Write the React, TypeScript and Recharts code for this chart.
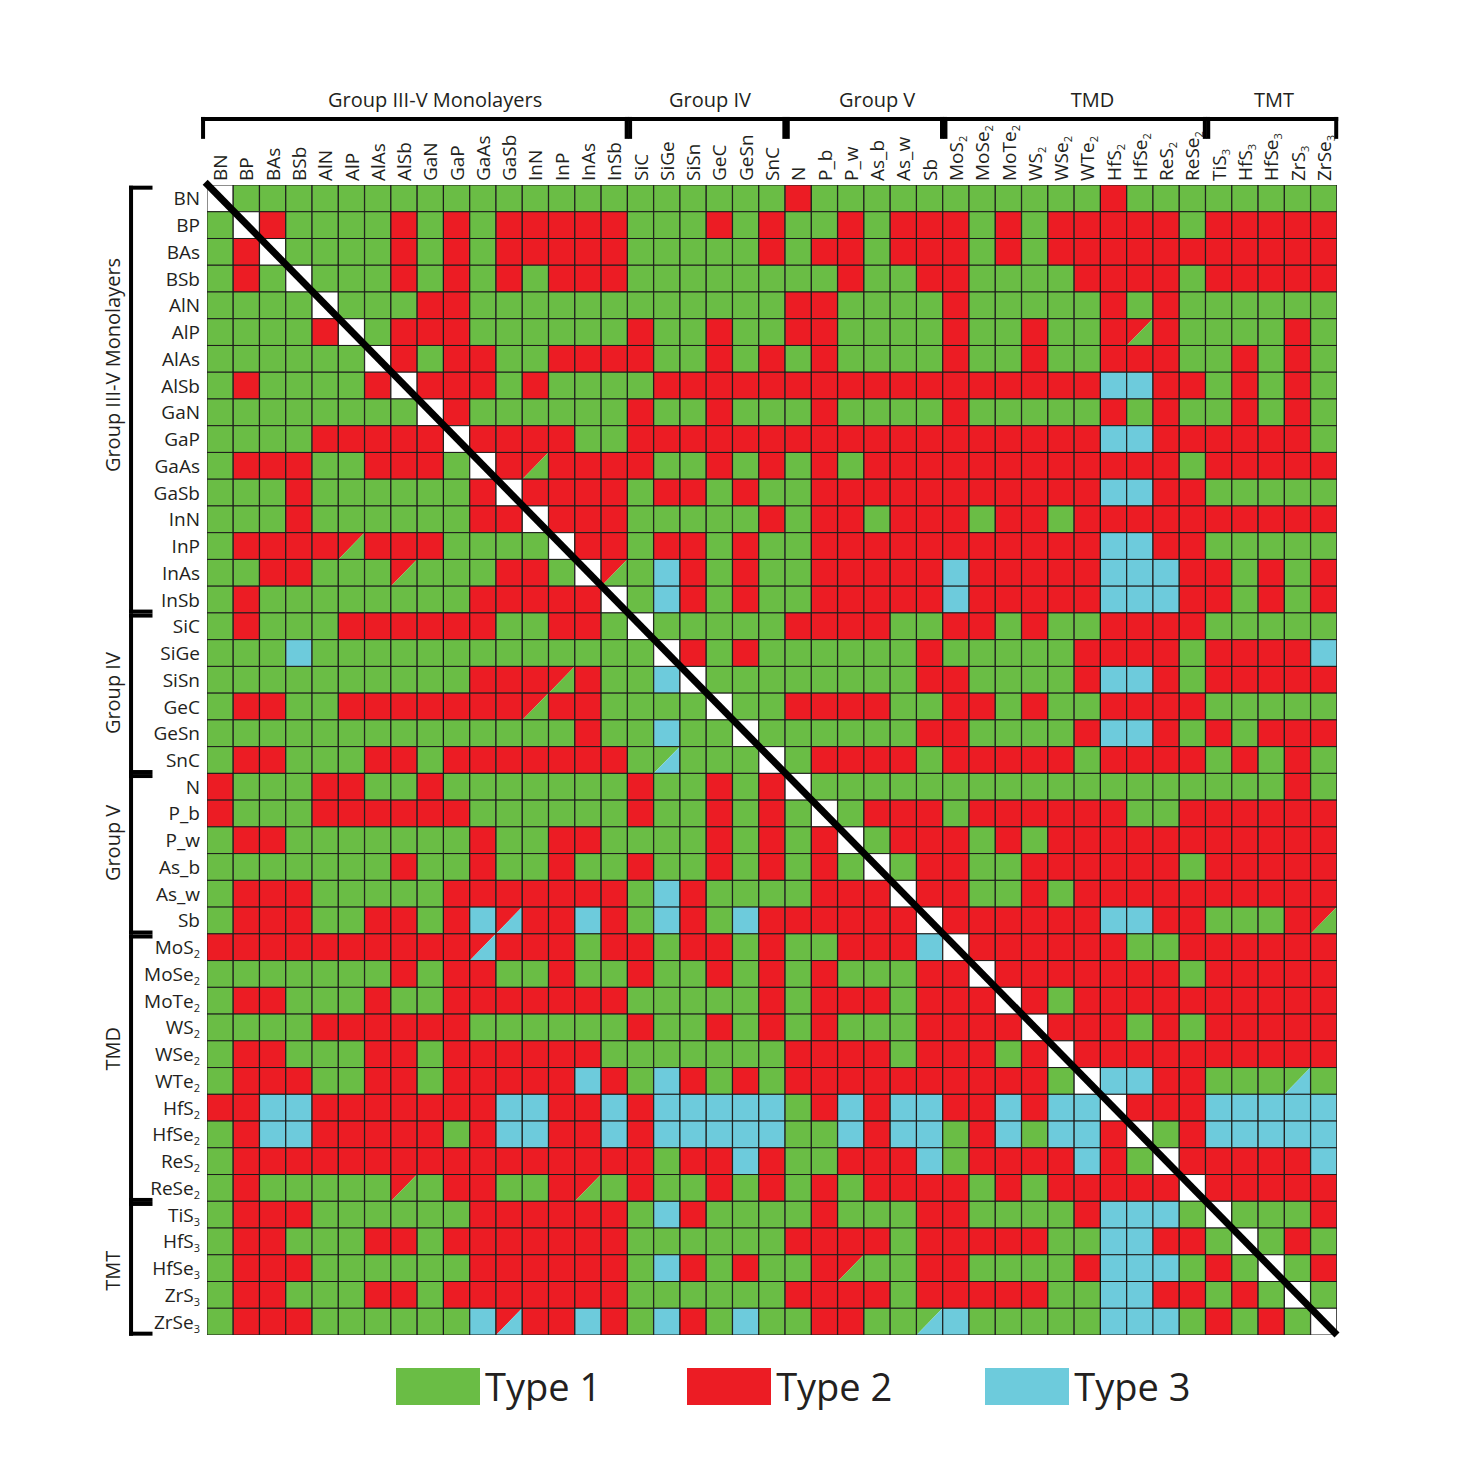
import { Bar, ComposedChart, ReferenceDot, ReferenceLine, XAxis, YAxis } from 'recharts';

const FONT = "'Open Sans', sans-serif";

const MATERIALS = [
  'BN', 'BP', 'BAs', 'BSb', 'AlN', 'AlP', 'AlAs', 'AlSb', 'GaN', 'GaP', 'GaAs', 'GaSb', 'InN', 'InP', 'InAs', 'InSb',
  'SiC', 'SiGe', 'SiSn', 'GeC', 'GeSn', 'SnC',
  'N', 'P_b', 'P_w', 'As_b', 'As_w', 'Sb',
  'MoS2', 'MoSe2', 'MoTe2', 'WS2', 'WSe2', 'WTe2', 'HfS2', 'HfSe2', 'ReS2', 'ReSe2',
  'TiS3', 'HfS3', 'HfSe3', 'ZrS3', 'ZrSe3',
];

const GROUPS = [
  { name: 'Group III-V Monolayers', start: 0, end: 16 },
  { name: 'Group IV', start: 16, end: 22 },
  { name: 'Group V', start: 22, end: 28 },
  { name: 'TMD', start: 28, end: 38 },
  { name: 'TMT', start: 38, end: 43 },
];

// G = Type 1, R = Type 2, B = Type 3, W = diagonal (same material)
// a = R/G split, b = R/B split, c = G/B split (upper-left / lower-right)
const CELL_ROWS = [
  'WGGGGGGGGGGGGGG' + 'GGGGGGGRGGGGGG' + 'GGGGGRGGGGGGGG',
  'GWRGGGGRGRGRRRR' + 'RGGGRGRGGRGRRR' + 'GRGRRRRRGRRRRR',
  'GRWGGGGRGRGRRRR' + 'RGGGGGRGRRGRRR' + 'GRGRRRRRRRRRRR',
  'GRGWGGGRGRGRGRR' + 'RGGGGGGGGRGGRR' + 'GGGGRRRRGRRRRR',
  'GGGGWGGGRRGGGGG' + 'GGGGGGGRRGGGGR' + 'GGGGGRGRGGGGGG',
  'GGGGRWGRRRGGGGG' + 'GRGGRGGRRGGGGR' + 'GGRGGRaRGGGGRG',
  'GGGGGGWRGRRGGRR' + 'RRGGRGRGRGGGGR' + 'GGRGGRRRGGRGRG',
  'GRGGGGRWRRRGRGG' + 'GGRRRRRRRRRRRR' + 'RRRRRBBRRGRGRG',
  'GGGGGGGGWRGGGGG' + 'GRGGRGGGRGGGGR' + 'GGGGGRGRGGRGRG',
  'GGGGRRRRRWRRRRG' + 'GRRRRRRRRRRRRR' + 'RRRRRBBRRRRRRG',
  'GRRRGGRRRGWRaRR' + 'RRGGRGRGRGRRRR' + 'RRRRRRRRGRRRRR',
  'GGGRGGGGGGRWRRR' + 'RGRRGRGGRRRRRR' + 'RRRRRBBRRGGGGG',
  'GGGRGGGGGGRRWRR' + 'RGGGGGRGRRGRRR' + 'GRRGRRRRRRRRRR',
  'GRRRRaRRRGGGGWR' + 'RGRRGRGGRRRRRR' + 'RRRRRBBRRGGGGG',
  'GGRRGGGaGGGRRGW' + 'aGBRGRGGRRRRRB' + 'RRRRRBBBRRGRGR',
  'GRGGGGGGGGRRRRR' + 'WGBRGRGGRRRRRB' + 'RRRRRBBBRRGRGR',
  'GRGGGRRRRRRGGRR' + 'GWGGGGGRRRRGGR' + 'RGRGGRRRRGGGGG',
  'GGGBGGGGGGGGGGG' + 'GGWRGRGGGGGGRG' + 'GGGGRRRRGRRRRB',
  'GGGGGGGGGGRRRaR' + 'GGBWGGGGGGGGRR' + 'GGGGRBBRGRRRRR',
  'GRRGGRRRRRRRaRR' + 'GGGGWGGRRRRGGR' + 'RGRGGRRRRGGGGG',
  'GGGGGGGGGGGGGGR' + 'GGBGGWGGGGGGRR' + 'GGGGRBBRGRGRRR',
  'GRRGGGRRGRRRRRR' + 'RGcGGGWGRRRRGR' + 'RRRRGRRRRGRGRG',
  'RGGGRRGGRGGGGGG' + 'GRGGRGRWGGGGGG' + 'GGGGGGGGGGGGRG',
  'RGGGRRRRRRGGGGG' + 'GRGGRGRGWGRRRG' + 'RRRRRRGGRRRRRR',
  'GRRGGGGGGGRGGRR' + 'GGGGRGRGRWGRRR' + 'GRGRRRRRRRRRRR',
  'GGGGGGGRGGRGGRG' + 'GRGGRGRGRGWGRR' + 'GGRRRRRRGRRRRR',
  'GRRRGGGGGRRRRRR' + 'RGBRGGGGRRRWRR' + 'GGRGRRRRRRRRRR',
  'GRRRGGRRGRBbRRB' + 'RGBRGBRRRRRRWR' + 'RRRRRBBRRGGGRa',
  'RRRRRRRRRRbRRRG' + 'RRGRRGRGGRRRBW' + 'RRRRRRGGRRRRRR',
  'GGGGGGGRGRRGGRG' + 'GRGGRGRGRGGGRR' + 'WRRRRRRRGRRRRR',
  'GRRGGGRGGRRRRRR' + 'RGGGGGRGRRRGRR' + 'RWRGRRRRRRRRRR',
  'GGGGRRRRRRGGGGG' + 'GRGGRGRGRGGGRR' + 'RRWRRRGRGRRRRR',
  'GRRGGGRRGRRRRRR' + 'GGGGGGGRRRRGRR' + 'RGRWRRRRRRRRRR',
  'GRRRGGRRGRRRRRB' + 'RGBRGRGRRRRRRR' + 'RRRGWBBRRGGGcG',
  'RRBBRRRRRRRBBRR' + 'BRBBBBBGRBRBBR' + 'RBRBBWRRRBBBBB',
  'GRBBRRRRRGRBBRR' + 'BRBBBBBGGBRBBG' + 'RBGBBRWGRBBBBB',
  'GRRRRRRRRRRRRRR' + 'RRGRRBRGGRRRBG' + 'RRRRBRGWRRRRRB',
  'GRGGGGGaGRRGGRa' + 'GRGGRGRGRGRRRR' + 'GRGRRRRRWRRRRR',
  'GRRRGGGGGGRRRRR' + 'RGBRGGGGRGGGRR' + 'GGGGRBBBGWGGGR',
  'GRRGGGRRGRRRRRR' + 'RGGGGGGRRRRGRR' + 'RRRGGBBRRGWGRG',
  'GRRRGGGGGGRRRRR' + 'RGBRGRGGRaGGRR' + 'GGGGRBBBGRGWGR',
  'GRRGGGRRGRRRRRR' + 'RGGGGGGRRRRGRR' + 'RRRGGBBRRGRGWG',
  'GRRRGGGGGGBbRRB' + 'RGBRGBGGRRGGcB' + 'GGGGGBBBGRGRGW',
];

const LEGEND_ITEMS = [
  { code: 'G', label: 'Type 1' },
  { code: 'R', label: 'Type 2' },
  { code: 'B', label: 'Type 3' },
];

const COLORS: Record<string, string> = {
  G: '#6abd45',
  R: '#ec1c24',
  B: '#6dcbdc',
  W: '#ffffff',
};

const SPLITS: Record<string, [string, string]> = {
  a: ['R', 'G'],
  b: ['R', 'B'],
  c: ['G', 'B'],
};

// label nudges, in cell units
const TOP_LABEL_SHIFT = [0.68, 0.14, 0.5, 0.7, 0.1];
const SIDE_LABEL_SHIFT = [-1.27, 0, -0.4, -0.7, 0.1];

const N = MATERIALS.length;
const CENTERS = MATERIALS.map((_, i) => i + 0.5);

const chartData = MATERIALS.map((name, c) => {
  const entry: Record<string, string | number> = { name, pos: c + 0.5 };
  MATERIALS.forEach((_, r) => {
    entry[`r${r}`] = 1;
  });
  return entry;
});

function splitLabel(label: string) {
  const m = label.match(/^(.*?)(\d)$/);
  return m ? { main: m[1], sub: m[2] } : { main: label, sub: '' };
}

function MatrixCell(props: any) {
  const { x, y, width, height, index, row } = props;
  const code = CELL_ROWS[row][index];
  const top = Math.min(y, y + height);
  const h = Math.abs(height);
  const w = width;
  const stroke = '#1d1d1b';
  if (SPLITS[code]) {
    const [ul, lr] = SPLITS[code];
    return (
      <g>
        <polygon points={`${x},${top} ${x + w},${top} ${x},${top + h}`} fill={COLORS[ul]} />
        <polygon points={`${x + w},${top} ${x + w},${top + h} ${x},${top + h}`} fill={COLORS[lr]} />
        <rect x={x} y={top} width={w} height={h} fill="none" stroke={stroke} strokeWidth={1} />
      </g>
    );
  }
  return <rect x={x} y={top} width={w} height={h} fill={COLORS[code]} stroke={stroke} strokeWidth={1} />;
}

function ColumnTick({ x, y, payload }: any) {
  const { main, sub } = splitLabel(MATERIALS[Math.floor(payload.value)] ?? '');
  return (
    <text
      x={x}
      y={y}
      transform={`rotate(-90, ${x}, ${y})`}
      textAnchor="start"
      dominantBaseline="central"
      fontSize={19}
      fontFamily={FONT}
      fill="#231f20"
    >
      {main}
      {sub && (
        <tspan fontSize={11} dy={6}>
          {sub}
        </tspan>
      )}
    </text>
  );
}

function RowTick({ x, y, payload }: any) {
  const { main, sub } = splitLabel(MATERIALS[Math.floor(payload.value)] ?? '');
  return (
    <text x={x} y={y} textAnchor="end" dominantBaseline="central" fontSize={19} fontFamily={FONT} fill="#231f20">
      {main}
      {sub && (
        <tspan fontSize={11} dy={6}>
          {sub}
        </tspan>
      )}
    </text>
  );
}

export default function App() {
  const bracket = { stroke: '#000', strokeWidth: 4, strokeLinecap: 'square' as const };
  return (
    <div
      style={{
        position: 'absolute',
        left: 0,
        top: 0,
        width: 1477,
        height: 1477,
        background: '#fff',
        fontFamily: FONT,
      }}
    >
      <ComposedChart
        width={1477}
        height={1477}
        data={chartData}
        margin={{ top: 100, right: 140, bottom: 142, left: 107 }}
        barCategoryGap={0}
        barGap={0}
      >
        <XAxis
          dataKey="pos"
          type="number"
          domain={[0, N]}
          ticks={CENTERS}
          allowDataOverflow
          orientation="top"
          height={85}
          interval={0}
          tickLine={false}
          axisLine={false}
          tickSize={0}
          tickMargin={4}
          tick={<ColumnTick />}
        />
        <YAxis
          type="number"
          domain={[0, N]}
          reversed
          width={100}
          interval={0}
          ticks={CENTERS}
          tickLine={false}
          axisLine={false}
          tickSize={0}
          tickMargin={7}
          tick={<RowTick />}
          allowDataOverflow
        />
        {MATERIALS.map((_, r) => (
          <Bar
            key={r}
            dataKey={`r${r}`}
            stackId="cells"
            isAnimationActive={false}
            shape={(p: any) => <MatrixCell {...p} row={r} />}
          />
        ))}
        <ReferenceLine
          segment={[
            { x: -0.07, y: -0.1 },
            { x: N, y: N },
          ]}
          stroke="#000"
          strokeWidth={7}
          ifOverflow="visible"
        />
        {GROUPS.map((g, i) => {
          const x1 = g.start === 0 ? -0.15 : g.start + 0.1;
          const x2 = g.end - 0.03;
          const yH = -2.47;
          const yT = -1.8;
          const y1 = g.start + 0.1;
          const y2 = g.end - 0.05;
          const xV = -2.89;
          const xT = -2.15;
          return [
            <ReferenceLine key={`th${i}`} segment={[{ x: x1, y: yH }, { x: x2, y: yH }]} {...bracket} ifOverflow="visible" />,
            <ReferenceLine key={`tl${i}`} segment={[{ x: x1, y: yH }, { x: x1, y: yT }]} {...bracket} ifOverflow="visible" />,
            <ReferenceLine key={`tr${i}`} segment={[{ x: x2, y: yH }, { x: x2, y: yT }]} {...bracket} ifOverflow="visible" />,
            <ReferenceLine key={`sv${i}`} segment={[{ x: xV, y: y1 }, { x: xV, y: y2 }]} {...bracket} ifOverflow="visible" />,
            <ReferenceLine key={`st${i}`} segment={[{ x: xV, y: y1 }, { x: xT, y: y1 }]} {...bracket} ifOverflow="visible" />,
            <ReferenceLine key={`sb${i}`} segment={[{ x: xV, y: y2 }, { x: xT, y: y2 }]} {...bracket} ifOverflow="visible" />,
            <ReferenceDot
              key={`tt${i}`}
              x={(g.start + g.end) / 2 + TOP_LABEL_SHIFT[i]}
              y={-3.18}
              r={0}
              ifOverflow="visible"
              shape={(p: any) => (
                <text x={p.cx} y={p.cy} textAnchor="middle" dominantBaseline="central" fontSize={20} fontFamily={FONT} fill="#231f20">
                  {g.name}
                </text>
              )}
            />,
            <ReferenceDot
              key={`sl${i}`}
              x={-3.58}
              y={(g.start + g.end) / 2 + SIDE_LABEL_SHIFT[i]}
              r={0}
              ifOverflow="visible"
              shape={(p: any) => (
                <text
                  x={p.cx}
                  y={p.cy}
                  transform={`rotate(-90, ${p.cx}, ${p.cy})`}
                  textAnchor="middle"
                  dominantBaseline="central"
                  fontSize={20}
                  fontFamily={FONT}
                  fill="#231f20"
                >
                  {g.name}
                </text>
              )}
            />,
          ];
        })}
      </ComposedChart>
      <div style={{ position: 'absolute', left: 396, top: 1366, display: 'flex', alignItems: 'center' }}>
        {LEGEND_ITEMS.map((item, i) => (
          <div key={item.code} style={{ display: 'flex', alignItems: 'center', marginRight: i === 0 ? 86 : 93 }}>
            <div style={{ width: 84, height: 37, background: COLORS[item.code] }} />
            <span style={{ marginLeft: 5, fontSize: 38, color: '#231f20', lineHeight: '40px' }}>{item.label}</span>
          </div>
        ))}
      </div>
    </div>
  );
}
